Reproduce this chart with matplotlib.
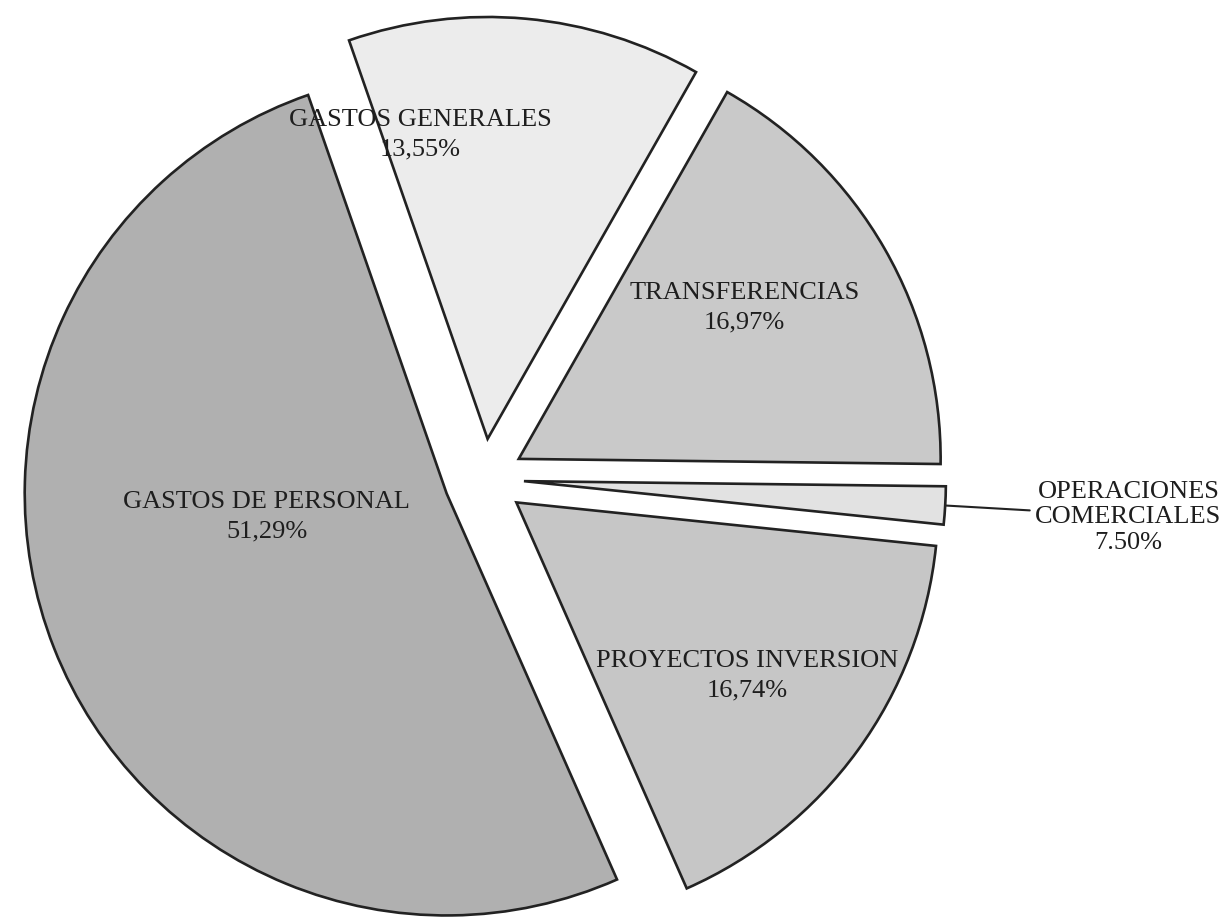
import matplotlib.pyplot as plt
import numpy as np

# Datos del gráfico (porcentajes)
categorias = ["TRANSFERENCIAS", "GASTOS GENERALES", "GASTOS DE PERSONAL",
              "PROYECTOS INVERSION", "OPERACIONES\nCOMERCIALES"]
valores = [16.97, 13.55, 51.29, 16.74, 1.45]
etiquetas_pct = ["16,97%", "13,55%", "51,29%", "16,74%", "7.50%"]
colores = ["#c9c9c9", "#ececec", "#b0b0b0", "#c6c6c6", "#e2e2e2"]

plt.rcParams['font.family'] = ['Liberation Serif', 'DejaVu Serif']

fig = plt.figure(figsize=(12.24, 9.2), dpi=100)
ax = fig.add_axes([0, 0, 1, 1])

explode = [0.095] * len(valores)
wedges, _ = ax.pie(valores, colors=colores, startangle=-0.7, counterclock=True,
                   explode=explode, radius=1.0,
                   wedgeprops=dict(edgecolor="#222222", linewidth=1.9))

ax.set_xlim(-1.147, 1.754)
ax.set_ylim(-1.043, 1.137)
ax.set_aspect('equal')
ax.axis('off')

# posicion de las etiquetas: (radio, angulo) respecto al centro desplazado del sector
pos_etiquetas = [(0.645, 34.0), (0.74, 102.5), (0.43, 187.0), (0.682, -36.8)]

for i, w in enumerate(wedges[:4]):
    medio = np.deg2rad((w.theta1 + w.theta2) / 2)
    cx = explode[i] * np.cos(medio)
    cy = explode[i] * np.sin(medio)
    r, ang = pos_etiquetas[i]
    ang = np.deg2rad(ang)
    ax.text(cx + r * np.cos(ang), cy + r * np.sin(ang),
            categorias[i] + "\n" + etiquetas_pct[i],
            ha="center", va="center", fontsize=19, color="#1e1e1e",
            linespacing=1.45)

# etiqueta exterior de operaciones comerciales
w = wedges[4]
medio = np.deg2rad((w.theta1 + w.theta2) / 2)
e = explode[4]
px = (e + 1.0) * np.cos(medio)
py = (e + 1.0) * np.sin(medio)
ax.annotate(categorias[4] + "\n" + etiquetas_pct[4], xy=(px, py),
            xytext=(1.53 * np.cos(medio), 1.53 * np.sin(medio)),
            ha="center", va="center", fontsize=19, color="#1e1e1e",
            linespacing=1.2,
            arrowprops=dict(arrowstyle="-", color="#222222", lw=1.5,
                            shrinkA=2, shrinkB=0))

fig.savefig("out.png", dpi=100, facecolor="white")
